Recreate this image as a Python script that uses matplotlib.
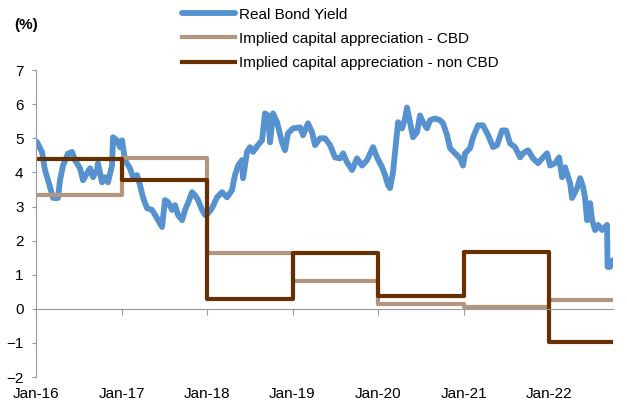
import numpy as np
import matplotlib
matplotlib.use('Agg')
import matplotlib.pyplot as plt

plt.rcParams['font.family'] = ['Liberation Sans', 'DejaVu Sans']
plt.rcParams['font.size'] = 11

# real bond yield, x in decimal years
bond_x = [2016.012, 2016.070, 2016.105, 2016.140, 2016.164, 2016.199, 2016.257, 2016.281,
          2016.316, 2016.374, 2016.421, 2016.456, 2016.515, 2016.550, 2016.596, 2016.632,
          2016.667, 2016.713, 2016.725, 2016.772, 2016.807, 2016.842, 2016.889, 2016.901,
          2016.947, 2016.982, 2017.006, 2017.041, 2017.099, 2017.135, 2017.181, 2017.216,
          2017.251, 2017.298, 2017.357, 2017.415, 2017.474, 2017.509, 2017.544, 2017.591,
          2017.626, 2017.661, 2017.708, 2017.743, 2017.778, 2017.825, 2017.860, 2017.895,
          2017.942, 2017.977, 2018.012, 2018.058, 2018.117, 2018.175, 2018.234, 2018.292,
          2018.327, 2018.363, 2018.409, 2018.421, 2018.468, 2018.503, 2018.538, 2018.596,
          2018.643, 2018.678, 2018.713, 2018.737, 2018.772, 2018.819, 2018.877, 2018.912,
          2018.947, 2019.006, 2019.088, 2019.123, 2019.181, 2019.228, 2019.263, 2019.322,
          2019.380, 2019.439, 2019.497, 2019.556, 2019.591, 2019.637, 2019.696, 2019.754,
          2019.813, 2019.871, 2019.942, 2019.988, 2020.047, 2020.082, 2020.117, 2020.140,
          2020.175, 2020.222, 2020.234, 2020.281, 2020.316, 2020.339, 2020.374, 2020.409,
          2020.456, 2020.491, 2020.526, 2020.573, 2020.608, 2020.667, 2020.725, 2020.760,
          2020.807, 2020.842, 2020.901, 2020.959, 2020.994, 2021.018, 2021.076, 2021.111,
          2021.170, 2021.228, 2021.287, 2021.345, 2021.392, 2021.450, 2021.497, 2021.544,
          2021.602, 2021.661, 2021.696, 2021.754, 2021.813, 2021.871, 2021.930, 2021.977,
          2022.012, 2022.070, 2022.117, 2022.152, 2022.187, 2022.246, 2022.269, 2022.327,
          2022.363, 2022.398, 2022.421, 2022.444, 2022.480, 2022.503, 2022.538, 2022.573,
          2022.620, 2022.678, 2022.684, 2022.713, 2022.749]
bond_y = [4.89, 4.60, 4.07, 3.77, 3.57, 3.25, 3.25, 3.77,
          4.20, 4.55, 4.60, 4.36, 4.12, 3.77, 3.97, 4.12,
          3.86, 4.07, 4.27, 3.71, 3.86, 3.71, 4.20, 5.03,
          4.94, 4.74, 4.94, 4.36, 4.12, 3.86, 3.92, 3.63,
          3.27, 2.95, 2.90, 2.66, 2.40, 3.19, 3.13, 2.90,
          3.04, 2.75, 2.60, 2.90, 3.10, 3.42, 3.33, 3.19,
          2.90, 2.75, 2.80, 2.95, 3.27, 3.42, 3.27, 3.48,
          3.92, 4.20, 4.36, 3.83, 4.60, 4.74, 4.60, 4.80,
          4.94, 5.73, 5.67, 4.88, 5.73, 5.47, 4.88, 4.65,
          5.15, 5.29, 5.32, 5.09, 5.44, 5.18, 4.80, 5.00,
          5.00, 4.80, 4.44, 4.41, 4.56, 4.30, 4.07, 4.41,
          4.20, 4.36, 4.74, 4.44, 4.15, 3.92, 3.63, 3.54,
          4.00, 5.18, 5.47, 5.29, 5.58, 5.90, 5.47, 5.03,
          5.18, 5.67, 5.47, 5.29, 5.53, 5.58, 5.53, 5.44,
          5.09, 4.71, 4.56, 4.41, 4.20, 4.56, 4.71, 5.03,
          5.38, 5.38, 5.09, 4.74, 4.80, 5.23, 5.23, 4.85,
          4.74, 4.44, 4.56, 4.65, 4.41, 4.27, 4.44, 4.56,
          4.20, 4.27, 4.44, 3.86, 4.15, 3.68, 3.25, 3.54,
          3.83, 3.57, 3.25, 2.60, 3.10, 2.60, 2.31, 2.46,
          2.31, 2.46, 1.23, 1.23, 1.43]

# implied capital appreciation, one value per year from Jan-16
step_x = [2016, 2017, 2018, 2019, 2020, 2021, 2022, 2022.75]
cbd = [3.35, 4.42, 1.65, 0.82, 0.15, 0.05, 0.25]
non_cbd = [4.40, 3.78, 0.28, 1.65, 0.38, 1.68, -0.97]

year_ticks = [2016, 2017, 2018, 2019, 2020, 2021, 2022]
year_labels = ['Jan-16', 'Jan-17', 'Jan-18', 'Jan-19', 'Jan-20', 'Jan-21', 'Jan-22']

axis_grey = '#999999'

fig = plt.figure(figsize=(6.27, 4.05), dpi=100)
ax = fig.add_axes([0.0574, 0.069, 0.9206, 0.758])

ax.plot(bond_x, bond_y, color='#5592CF', lw=4.2, solid_joinstyle='round',
        solid_capstyle='round', label='Real Bond Yield')
ax.step(step_x, cbd + cbd[-1:], where='post', color='#B39580', lw=3.0,
        solid_joinstyle='round', label='Implied capital appreciation - CBD')
ax.step(step_x, non_cbd + non_cbd[-1:], where='post', color='#663000', lw=3.0,
        solid_joinstyle='round', label='Implied capital appreciation - non CBD')

ax.set_xlim(2016, 2022.75)
ax.set_ylim(-2, 7)
ax.set_yticks(range(-2, 8))

for side in ['top', 'right']:
    ax.spines[side].set_visible(False)
ax.spines['left'].set_color(axis_grey)
ax.spines['bottom'].set_color(axis_grey)
ax.spines['bottom'].set_position(('data', 0))

ax.set_xticks(year_ticks)
ax.tick_params(axis='x', direction='out', length=4, color=axis_grey, labelbottom=False)
ax.tick_params(axis='y', direction='out', length=3, color=axis_grey, pad=6)

# date labels sit under the plot, not on the zero line
lab = ax.secondary_xaxis('bottom')
lab.set_xticks(year_ticks)
lab.set_xticklabels(year_labels)
lab.spines['bottom'].set_visible(False)
lab.tick_params(length=0, pad=7)

fig.text(0.022, 0.938, '(%)', fontsize=11, fontweight='bold', va='center')

fig.legend(loc='upper left', bbox_to_anchor=(0.28, 0.996), frameon=False,
           handlelength=3.5, handletextpad=0.26, labelspacing=0.66, borderaxespad=0)

fig.savefig('out.png', dpi=100)
